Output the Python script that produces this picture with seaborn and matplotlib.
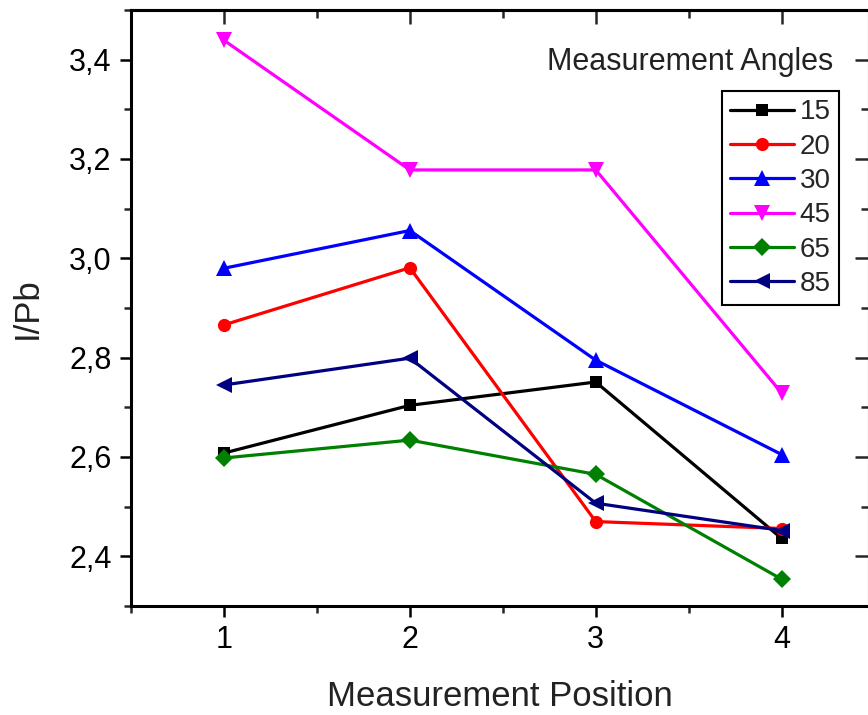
import matplotlib
matplotlib.use("Agg")
import matplotlib.pyplot as plt
import seaborn as sns
import pandas as pd
from matplotlib.ticker import MultipleLocator, FixedLocator

positions = [1, 2, 3, 4]
angles = ["15", "20", "30", "45", "65", "85"]
vals_15 = [2.608, 2.704, 2.751, 2.436]
vals_20 = [2.866, 2.981, 2.470, 2.456]
vals_30 = [2.980, 3.056, 2.795, 2.605]
vals_45 = [3.439, 3.178, 3.178, 2.729]
vals_65 = [2.598, 2.634, 2.565, 2.354]
vals_85 = [2.745, 2.799, 2.507, 2.452]
series = [vals_15, vals_20, vals_30, vals_45, vals_65, vals_85]

colors = ["#000000", "#FF0000", "#0000FF", "#FF00FF", "#008000", "#000080"]
markers = ["s", "o", "^", "v", "D", "<"]
msizes = [9, 9.5, 11, 11, 9.5, 11]

sns.set_theme(style="white")
plt.rcParams["font.family"] = ["Liberation Sans", "DejaVu Sans"]

fig = plt.figure(figsize=(8.68, 7.15), dpi=100)
ax = fig.add_axes([131/868, 1 - 606/715, (869 - 131)/868, (606 - 10)/715])

for lab, vals, c, m, ms in zip(angles, series, colors, markers, msizes):
    df = pd.DataFrame({"Measurement Position": positions, "I/Pb": vals})
    sns.lineplot(data=df, x="Measurement Position", y="I/Pb", ax=ax,
                 color=c, marker=m, markersize=ms, markeredgewidth=0,
                 linewidth=2.3, label=lab, legend=False)

ax.set_xlim(0.5, 4.47)
ax.set_ylim(2.3, 3.5)
ax.xaxis.set_major_locator(FixedLocator(positions))
ax.xaxis.set_minor_locator(FixedLocator([0.5, 1.5, 2.5, 3.5]))
ax.yaxis.set_major_locator(MultipleLocator(0.2))
ax.yaxis.set_minor_locator(MultipleLocator(0.1))
ax.set_yticks([2.4, 2.6, 2.8, 3.0, 3.2, 3.4])
ax.set_yticklabels([f"{v:.1f}".replace(".", ",") for v in [2.4, 2.6, 2.8, 3.0, 3.2, 3.4]])
ax.set_xticks(positions)
ax.set_xticklabels([str(p) for p in positions])

for s in ax.spines.values():
    s.set_visible(True)
    s.set_color("black")
    s.set_linewidth(2.2)

ax.tick_params(axis="both", which="major", direction="out", length=8, width=1.8,
               labelsize=22, colors="black", pad=6)
ax.tick_params(axis="both", which="minor", direction="out", length=5, width=1.8)
ax.tick_params(axis="x", which="both", bottom=True, top=False)
ax.tick_params(axis="y", which="both", left=True, right=False)

# mirrored inward ticks on top and right
secx = ax.secondary_xaxis("top")
secx.xaxis.set_major_locator(FixedLocator(positions))
secx.xaxis.set_minor_locator(FixedLocator([0.5, 1.5, 2.5, 3.5]))
secx.tick_params(which="major", direction="in", length=10, width=1.8, labeltop=False)
secx.tick_params(which="minor", direction="in", length=6, width=1.8)
secx.spines["top"].set_linewidth(2.2)
secy = ax.secondary_yaxis("right")
secy.yaxis.set_major_locator(MultipleLocator(0.2))
secy.yaxis.set_minor_locator(MultipleLocator(0.1))
secy.tick_params(which="major", direction="in", length=10, width=1.8, labelright=False)
secy.tick_params(which="minor", direction="in", length=6, width=1.8)

ax.set_xlabel("Measurement Position", fontsize=25, labelpad=18, color="#222222")
ax.set_ylabel("I/Pb", fontsize=25, labelpad=18, color="#222222")

handles, labels = ax.get_legend_handles_labels()
leg = ax.legend(handles, labels, loc="upper left",
                bbox_to_anchor=(722/868, 1 - 91/715), bbox_transform=fig.transFigure,
                fontsize=20, frameon=True, fancybox=False, framealpha=1,
                edgecolor="black", handlelength=2.3, handletextpad=0.2,
                labelspacing=0.3, borderpad=0.3, borderaxespad=0)
leg.get_frame().set_linewidth(1.5)

fig.text(833/868, 1 - 62/715, "Measurement Angles", fontsize=22,
         ha="right", va="center", color="#222222")

fig.savefig("out.png", dpi=100)
